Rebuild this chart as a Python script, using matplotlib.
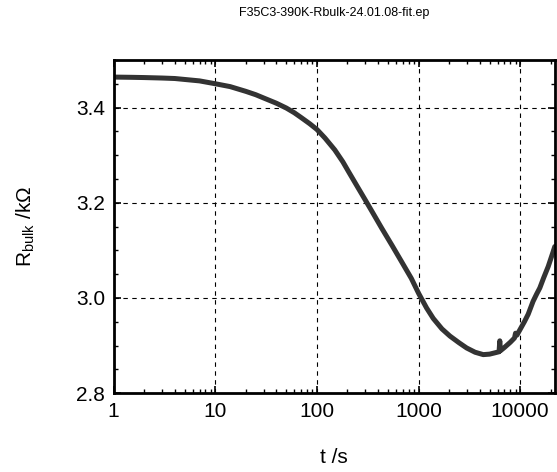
import matplotlib
matplotlib.use("Agg")
import matplotlib.pyplot as plt
from matplotlib.ticker import MultipleLocator, LogLocator, FixedLocator, FixedFormatter, NullFormatter
import numpy as np

plt.rcParams["font.family"] = ["Liberation Sans", "DejaVu Sans"]

# ====== Data ======
t_s = [1, 1.5, 2, 3, 4, 5, 7, 10, 14, 20, 25, 30, 40, 50, 60, 70, 85,
       100, 120, 150, 180, 204, 250, 297, 350, 433, 550, 682, 850, 1000,
       1200, 1396, 1700, 2036, 2500, 2972, 3600, 4330, 5000, 5700, 6200,
       6300, 6380, 7000, 8000, 8800, 9000, 9300, 9930, 11000, 12000,
       13400, 14500, 15600, 17000, 18870, 21100, 21900]
r_bulk = [3.464, 3.4635, 3.463, 3.462, 3.461, 3.459, 3.456, 3.450, 3.444,
          3.434, 3.427, 3.420, 3.409, 3.399, 3.389, 3.379, 3.366, 3.354,
          3.336, 3.311, 3.286, 3.266, 3.234, 3.207, 3.181, 3.147, 3.110,
          3.076, 3.041, 3.010, 2.979, 2.957, 2.935, 2.920, 2.906, 2.895,
          2.886, 2.881, 2.882, 2.885, 2.887, 2.910, 2.889, 2.896, 2.907,
          2.916, 2.926, 2.922, 2.933, 2.950, 2.966, 2.993, 3.008, 3.021,
          3.042, 3.066, 3.097, 3.108]

x_ticks = [1, 10, 100, 1000, 10000]
x_labels = ["1", "10", "100", "1000", "10000"]
title = "F35C3-390K-Rbulk-24.01.08-fit.ep"

fig = plt.figure(figsize=(5.57, 4.72), dpi=100)
ax = fig.add_axes([0.204, 0.167, 0.792, 0.706])

ax.plot(t_s, r_bulk, color="#333333", lw=3.6, solid_capstyle="round",
        solid_joinstyle="round")

ax.set_xscale("log")
ax.set_xlim(1, 21900)
ax.set_ylim(2.8, 3.5)

ax.xaxis.set_major_locator(FixedLocator(x_ticks))
ax.xaxis.set_major_formatter(FixedFormatter(x_labels))
ax.xaxis.set_minor_locator(LogLocator(base=10, subs=np.arange(2, 10)))
ax.xaxis.set_minor_formatter(NullFormatter())
ax.yaxis.set_major_locator(FixedLocator([2.8, 3.0, 3.2, 3.4]))
ax.yaxis.set_minor_locator(MultipleLocator(0.05))
ax.set_yticklabels(["2.8", "3.0", "3.2", "3.4"])

ax.tick_params(which="both", direction="in", top=True, right=True, labelsize=15)
ax.tick_params(which="major", length=5, width=1.2, pad=6)
ax.tick_params(which="minor", length=3, width=1)

ax.grid(True, which="major", color="black", ls=(0, (4, 4)), lw=0.8)
for sp in ax.spines.values():
    sp.set_linewidth(2)

ax.set_xlabel("t /s", fontsize=15, labelpad=20)
ax.set_ylabel("R$_\\mathregular{bulk}$ /k\u03a9", fontsize=15, labelpad=28)
fig.text(0.6, 0.972, title, ha="center", va="center", fontsize=9)

fig.savefig("out.png", dpi=100)
